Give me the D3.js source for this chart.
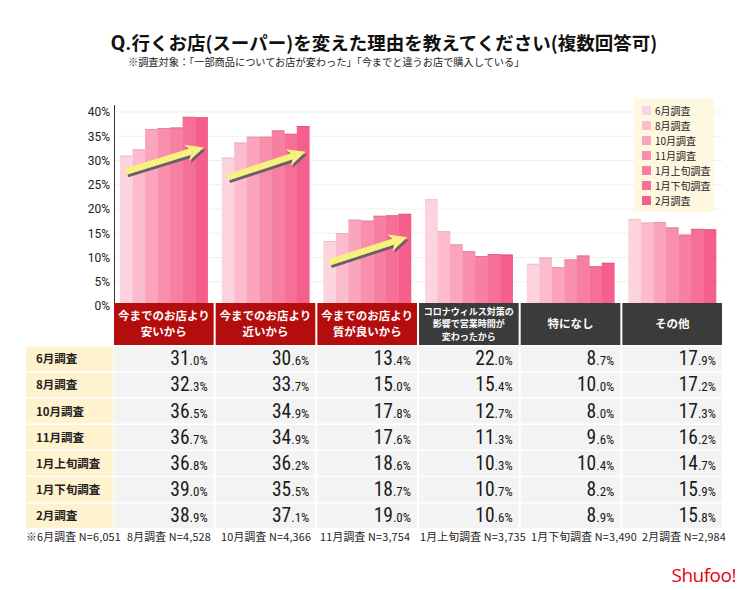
<!DOCTYPE html>
<html><head><meta charset="utf-8">
<script src="https://cdn.jsdelivr.net/npm/d3@7"></script>
<style>
body{margin:0;background:#fff;}
svg{display:block;font-family:"Noto Sans CJK JP","Noto Sans",sans-serif;}
</style></head>
<body><svg id="c" width="750" height="590"></svg>
<script>
const categories = [
  ["今までのお店より","安いから"],
  ["今までのお店より","近いから"],
  ["今までのお店より","質が良いから"],
  ["コロナウィルス対策の","影響で営業時間が","変わったから"],
  ["特になし"],
  ["その他"]
];
const highlighted = [true,true,true,false,false,false];
const series = ["6月調査","8月調査","10月調査","11月調査","1月上旬調査","1月下旬調査","2月調査"];
const values = [
  [31.0,30.6,13.4,22.0,8.7,17.9],
  [32.3,33.7,15.0,15.4,10.0,17.2],
  [36.5,34.9,17.8,12.7,8.0,17.3],
  [36.7,34.9,17.6,11.3,9.6,16.2],
  [36.8,36.2,18.6,10.3,10.4,14.7],
  [39.0,35.5,18.7,10.7,8.2,15.9],
  [38.9,37.1,19.0,10.6,8.9,15.8]
];
const sampleSizes = ["6,051","4,528","4,366","3,754","3,735","3,490","2,984"];
const yTicks = [0,5,10,15,20,25,30,35,40];
const arrows = [[0,27.7,32.7],[1,26.5,31.8],[2,9.0,14.2]];
const colors = ["#fdd3de","#fcbccd","#faa5bc","#f890ad","#f77fa1","#f66f96","#f4608b"];

const svg = d3.select("#c");
const catIdx = d3.range(categories.length);
const x0 = d3.scaleBand().domain(catIdx).range([114,722]).paddingInner(0.02).paddingOuter(0);
const x1 = d3.scaleBand().domain(d3.range(series.length)).range([6, x0.bandwidth()-6]);
const y = d3.scaleLinear().domain([0,40]).range([306,112]);
const color = d3.scaleOrdinal().domain(series).range(colors);

// Title
const title = svg.append("text").attr("x",384).attr("y",50).attr("text-anchor","middle")
  .attr("font-weight","bold").attr("fill","#111").attr("font-size",18.5);
title.append("tspan").attr("font-family","Roboto,'Noto Sans',sans-serif").attr("font-size",21).text("Q.");
title.append("tspan").text("行くお店(スーパー)を変えた理由を教えてください(複数回答可)");
svg.append("text").attr("x",128).attr("y",66).attr("font-size",10.2).attr("fill","#222")
  .text("※調査対象：「一部商品についてお店が変わった」「今までと違うお店で購入している」");

// gridlines
svg.append("g").selectAll("line").data(yTicks.filter(d=>d>0)).join("line")
  .attr("x1",114).attr("x2",722).attr("y1",d=>y(d)).attr("y2",d=>y(d))
  .attr("stroke","#e0e0e0").attr("stroke-width",1).attr("stroke-dasharray","1,1");

// y axis
const yAxis = d3.axisLeft(y).tickValues(yTicks).tickSize(0).tickPadding(4).tickFormat(d=>d+"%");
const ga = svg.append("g").attr("transform","translate(114,0)").call(yAxis);
ga.select(".domain").remove();
ga.selectAll("text").attr("font-size",12).attr("fill","#222").attr("font-family","Roboto,'Noto Sans',sans-serif");
svg.append("line").attr("x1",114.5).attr("x2",114.5).attr("y1",105).attr("y2",304).attr("stroke","#333").attr("stroke-width",1);

// bars
const gBars = svg.append("g").selectAll("g").data(catIdx).join("g")
  .attr("transform",c=>`translate(${x0(c)},0)`);
gBars.selectAll("rect").data(c=>series.map((s,i)=>({s,i,v:values[i][c]}))).join("rect")
  .attr("x",d=>x1(d.i)).attr("width",x1.bandwidth()+0.3)
  .attr("y",d=>y(d.v)).attr("height",d=>y(0)-y(d.v))
  .attr("fill",d=>color(d.s));
gBars.selectAll("line.top").data(c=>series.map((s,i)=>({s,i,v:values[i][c]}))).join("line")
  .attr("class","top").attr("x1",d=>x1(d.i)).attr("x2",d=>x1(d.i)+x1.bandwidth())
  .attr("y1",d=>y(d.v)+0.5).attr("y2",d=>y(d.v)+0.5)
  .attr("stroke",d=>d3.color(color(d.s)).darker(0.25)).attr("stroke-width",1);

// arrows
const defs = svg.append("defs");
const pat = defs.append("pattern").attr("id","hatch").attr("patternUnits","userSpaceOnUse")
  .attr("width",3).attr("height",3).attr("patternTransform","rotate(45)");
pat.append("rect").attr("width",3).attr("height",3).attr("fill","#f4ef62");
pat.append("rect").attr("width",1.2).attr("height",3).attr("fill","#faf6a8");
arrows.forEach(([c,a,b])=>{
  const xa = x0(c)+12, xb = x0(c)+90;
  const ya = y(a), yb = y(b);
  const len = Math.hypot(xb-xa, yb-ya);
  const ang = Math.atan2(yb-ya, xb-xa)*180/Math.PI;
  const hl = 15, sw = 3.2, hw = 8.5;
  const pts = [[0,-sw],[len-hl,-sw],[len-hl-3,-hw],[len,0],[len-hl-3,hw],[len-hl,sw],[0,sw]];
  const g = svg.append("g");
  g.append("polygon").attr("points",pts.map(p=>p.join(",")).join(" "))
    .attr("transform",`translate(${xa+1.5},${ya+2.5}) rotate(${ang})`).attr("fill","#6b5d6a");
  g.append("polygon").attr("points",pts.map(p=>p.join(",")).join(" "))
    .attr("transform",`translate(${xa},${ya}) rotate(${ang})`).attr("fill","url(#hatch)");
});

// legend
const lg = svg.append("g").attr("transform","translate(634,99)");
lg.append("rect").attr("width",80).attr("height",113).attr("fill","#fff8e1");
const li = lg.selectAll("g").data(series).join("g").attr("transform",(d,i)=>`translate(8,${7+i*15})`);
li.append("rect").attr("width",9).attr("height",9).attr("fill",d=>color(d));
li.append("text").attr("x",13).attr("y",8.5).attr("font-size",10).attr("fill","#222").text(d=>d);

// category header boxes
const hb = svg.append("g").selectAll("g").data(catIdx).join("g")
  .attr("transform",c=>`translate(${x0(c)},303)`);
hb.append("rect").attr("width",x0.bandwidth()).attr("height",42)
  .attr("fill",c=>highlighted[c]?"#b30d0d":"#3b3b3b");
hb.each(function(c){
  const lines = categories[c];
  const fs = lines.length>2?9:11.5;
  const lh = lines.length>2?12.5:15.5;
  const t = d3.select(this).append("text").attr("text-anchor","middle").attr("fill","#fff")
    .attr("font-weight","bold").attr("font-size",fs);
  lines.forEach((l,i)=>{
    t.append("tspan").attr("x",x0.bandwidth()/2)
      .attr("y",21 + (i-(lines.length-1)/2)*lh + fs*0.36).text(l);
  });
});

// table
const rowY = d3.scaleBand().domain(d3.range(series.length)).range([346.5,528]).paddingInner(0.06);
const rows = svg.append("g").selectAll("g").data(d3.range(series.length)).join("g")
  .attr("transform",i=>`translate(0,${rowY(i)})`);
rows.append("rect").attr("x",26).attr("width",87).attr("height",rowY.bandwidth()).attr("fill","#fff2cf");
rows.append("text").attr("x",36).attr("y",rowY.bandwidth()/2+4.5).attr("font-size",11.5)
  .attr("font-weight","bold").attr("fill","#222").text(i=>series[i]);
rows.each(function(i){
  const g = d3.select(this);
  catIdx.forEach(c=>{
    g.append("rect").attr("x",x0(c)).attr("width",x0.bandwidth()).attr("height",rowY.bandwidth()).attr("fill","#f3f3f3");
    const v = values[i][c].toFixed(1).split(".");
    const t = g.append("text").attr("x",x0(c)+x0.bandwidth()-6).attr("y",rowY.bandwidth()/2+6.5)
      .attr("text-anchor","end").attr("fill","#1a1a1a")
      .attr("font-family","'Liberation Sans Narrow','Roboto Condensed',Roboto,sans-serif");
    t.append("tspan").attr("font-size",19.5).text(v[0]);
    t.append("tspan").attr("font-size",13).text("."+v[1]+"%");
  });
});

// footer sample sizes
const footX = [26,127,221,320,420,531,642];
svg.append("g").selectAll("text").data(series).join("text")
  .attr("x",(d,i)=>footX[i]).attr("y",541).attr("font-size",10.8).attr("fill","#222")
  .attr("letter-spacing",0.2)
  .text((d,i)=>(i===0?"※":"")+d+" N="+sampleSizes[i]);

// logo
svg.append("text").attr("x",736).attr("y",582).attr("text-anchor","end")
  .attr("font-size",19).attr("fill","#e60012").attr("font-family","'Open Sans',Roboto,sans-serif")
  .attr("letter-spacing",-0.5).text("Shufoo!");
</script></body></html>
